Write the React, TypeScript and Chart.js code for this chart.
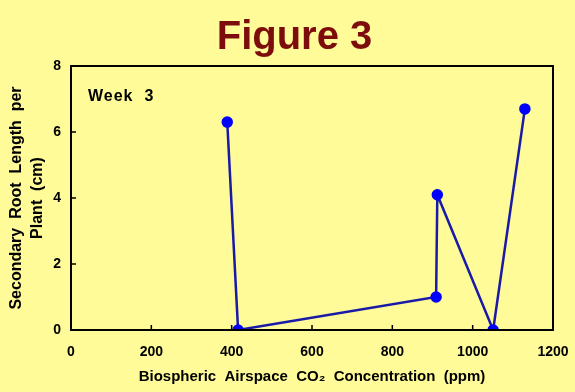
import React, { useEffect, useRef } from "react";
import { Chart, registerables } from "chart.js";

Chart.register(...registerables);

const co2Ppm = [389, 416, 909, 912, 1051, 1130];
const rootLength = [6.3, 0.0, 1.0, 4.1, 0.0, 6.7];
const xTicks = [0, 200, 400, 600, 800, 1000, 1200];
const yTicks = [0, 2, 4, 6, 8];
const titleText = "Figure 3";
const weekLabel = "Week  3";
const xTitle = "Biospheric  Airspace  CO\u2082  Concentration  (ppm)";
const yTitle = ["Secondary  Root  Length  per", "Plant  (cm)"];

const BG = "#FFFB99";
const TITLE_COLOR = "#7d0d0d";
const FONT = "'Liberation Sans', Arial, sans-serif";

const framePlugin = {
  id: "frame",
  beforeDraw(chart: any) {
    const { ctx, width, height } = chart;
    ctx.save();
    ctx.fillStyle = BG;
    ctx.fillRect(0, 0, width, height);
    ctx.restore();
  },
  afterDraw(chart: any) {
    const { ctx, chartArea, scales, width } = chart;
    const { left, right, top, bottom } = chartArea;
    ctx.save();
    ctx.strokeStyle = "#000";
    ctx.lineWidth = 2;
    ctx.strokeRect(left, top, right - left, bottom - top);
    ctx.lineWidth = 1.5;
    ctx.beginPath();
    xTicks.forEach((v) => {
      const px = scales.x.getPixelForValue(v);
      ctx.moveTo(px, bottom);
      ctx.lineTo(px, bottom - 5);
    });
    yTicks.forEach((v) => {
      const py = scales.y.getPixelForValue(v);
      ctx.moveTo(left, py);
      ctx.lineTo(left + 5, py);
    });
    ctx.stroke();

    // title, drawn slightly right of canvas centre as in the reference
    const tb = chart.titleBlock;
    ctx.fillStyle = TITLE_COLOR;
    ctx.font = `bold 40px ${FONT}`;
    ctx.textAlign = "center";
    ctx.textBaseline = "middle";
    ctx.fillText(titleText, width / 2 + 7, tb.top + 14 + 24);

    ctx.fillStyle = "#000";
    ctx.font = `bold 16px ${FONT}`;
    (ctx as any).letterSpacing = "1px";
    ctx.textBaseline = "middle";
    ctx.textAlign = "left";
    ctx.fillText(weekLabel, left + 17, top + 31);
    ctx.restore();
  },
};

export default function App() {
  const ref = useRef<HTMLCanvasElement | null>(null);
  useEffect(() => {
    document.body.style.margin = "0";
    const chart = new Chart(ref.current as HTMLCanvasElement, {
      type: "scatter",
      data: {
        datasets: [
          {
            data: co2Ppm.map((x, i) => ({ x, y: rootLength[i] })),
            showLine: true,
            borderColor: "#1a1aa8",
            borderWidth: 2.5,
            pointBackgroundColor: "#0000ff",
            pointBorderColor: "#0000ff",
            pointRadius: 4.5,
            pointHoverRadius: 4.5,
          },
        ],
      },
      options: {
        animation: false,
        responsive: false,
        layout: { padding: { left: 0, right: 1, top: 0, bottom: 0 } },
        plugins: {
          legend: { display: false },
          tooltip: { enabled: false },
          title: {
            display: true,
            text: titleText,
            color: "rgba(0,0,0,0)",
            font: { family: FONT, size: 40, weight: "bold" },
            padding: { top: 14, bottom: 4 },
          },
        },
        scales: {
          x: {
            type: "linear",
            min: 0,
            max: 1200,
            afterBuildTicks: (s: any) => {
              s.ticks = xTicks.map((v) => ({ value: v }));
            },
            afterFit: (s: any) => {
              s.height = 62;
              s.paddingRight = 22;
            },
            grid: { display: true, drawOnChartArea: false, drawTicks: false },
            border: { display: true, color: "#000", width: 2 },
            ticks: {
              color: "#000",
              padding: 14,
              callback: (v: any) => String(v),
              font: { family: FONT, size: 14, weight: "bold" },
            },
            title: {
              display: true,
              text: xTitle,
              color: "#000",
              font: { family: FONT, size: 15, weight: "bold" },
              padding: { top: 0, bottom: 6 },
            },
          },
          y: {
            type: "linear",
            min: 0,
            max: 8,
            afterBuildTicks: (s: any) => {
              s.ticks = yTicks.map((v) => ({ value: v }));
            },
            afterFit: (s: any) => {
              s.width = 71;
            },
            grid: { display: true, drawOnChartArea: false, drawTicks: false },
            border: { display: true, color: "#000", width: 2 },
            ticks: {
              color: "#000",
              padding: 10,
              callback: (v: any) => String(v),
              font: { family: FONT, size: 14, weight: "bold" },
            },
            title: {
              display: true,
              text: yTitle,
              color: "#000",
              font: { family: FONT, size: 16, weight: "bold", lineHeight: 1.3 },
              padding: { top: 6, bottom: 6 },
            },
          },
        },
      },
      plugins: [framePlugin],
    });
    return () => chart.destroy();
  }, []);
  return (
    <div style={{ width: 575, height: 392 }}>
      <canvas ref={ref} width={575} height={392} />
    </div>
  );
}
